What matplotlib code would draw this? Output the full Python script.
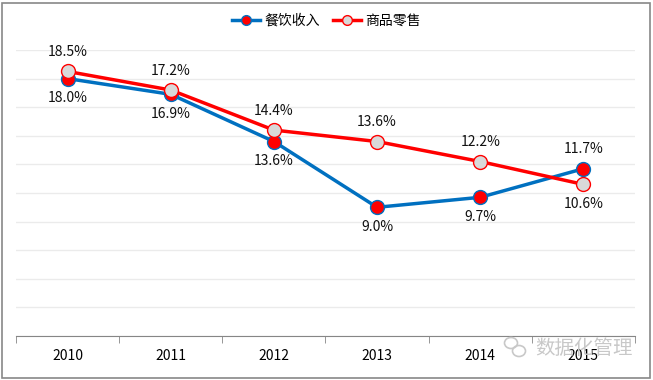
import matplotlib
matplotlib.use("Agg")
import matplotlib.pyplot as plt
from matplotlib.patches import Rectangle, Ellipse
from matplotlib.lines import Line2D

plt.rcParams['font.family'] = ['Noto Sans CJK SC', 'DejaVu Sans']

years = ['2010', '2011', '2012', '2013', '2014', '2015']
catering = [18.0, 16.9, 13.6, 9.0, 9.7, 11.7]
retail = [18.5, 17.2, 14.4, 13.6, 12.2, 10.6]
series_names = ['餐饮收入', '商品零售']
watermark = '数据化管理'

fig = plt.figure(figsize=(6.53, 3.80), dpi=100)
ax = fig.add_axes([16/653, 44/380, (635-16)/653, (336-50)/380])

x = list(range(len(years)))
blue = '#0070C0'
red = '#FF0000'

l1, = ax.plot(x, catering, color=blue, lw=2.5, marker='o', ms=10,
              mfc=red, mec=blue, mew=1.0, clip_on=False, zorder=3)
l2, = ax.plot(x, retail, color=red, lw=2.5, marker='o', ms=10,
              mfc='#D9D9D9', mec=red, mew=1.0, clip_on=False, zorder=4)

off = 9
for i in range(len(years)):
    c, r = catering[i], retail[i]
    c_above = c > r
    ax.annotate(f'{c:.1f}%', (i, c), xytext=(0, off if c_above else -off),
                textcoords='offset points', ha='center',
                va='bottom' if c_above else 'top', fontsize=10, color='#111111')
    ax.annotate(f'{r:.1f}%', (i, r), xytext=(0, off if not c_above else -off),
                textcoords='offset points', ha='center',
                va='bottom' if not c_above else 'top', fontsize=10, color='#111111')

ax.set_xlim(-0.5, len(years) - 0.5)
ax.set_ylim(0, 20)
ax.set_yticks(range(0, 21, 2))
ax.yaxis.grid(True, color='#EBEBEB', lw=1)
ax.set_axisbelow(True)
ax.tick_params(axis='y', left=False, labelleft=False)
ax.set_xticks(x)
ax.set_xticklabels(years, fontsize=10)
ax.set_xticks([i - 0.5 for i in range(len(years) + 1)], minor=True)
ax.tick_params(axis='x', which='major', length=0, pad=9)
ax.tick_params(axis='x', which='minor', length=5, color='#868686', direction='out')
for s in ['top', 'right', 'left']:
    ax.spines[s].set_visible(False)
ax.spines['bottom'].set_color('#868686')

handles = [Line2D([0], [0], color=blue, lw=2.5, marker='o', ms=7, mfc=red, mec=blue),
           Line2D([0], [0], color=red, lw=2.5, marker='o', ms=7, mfc='#D9D9D9', mec=red)]
fig.legend(handles, series_names, loc='center', bbox_to_anchor=(0.5, 1 - 21/380),
           ncol=2, frameon=False, fontsize=10, handlelength=2.0, handletextpad=0.3,
           columnspacing=1.0)

# watermark
fig.text(633/653, 1 - 348/380, watermark, ha='right', va='center', fontsize=14,
         color='#C8C8C8', zorder=0)
fig.patches.append(Ellipse((511/653, 1 - 343/380), 13/653, 11/380, transform=fig.transFigure,
                           fill=False, ec='#C8C8C8', lw=1.2))
fig.patches.append(Ellipse((519/653, 1 - 351/380), 13/653, 11/380, transform=fig.transFigure,
                           fill=False, ec='#C8C8C8', lw=1.2))

fig.patches.append(Rectangle((2/653, 2/380), 648/653, 375/380, transform=fig.transFigure,
                             fill=False, ec='#888888', lw=1.2))

fig.savefig('out.png', dpi=100)
